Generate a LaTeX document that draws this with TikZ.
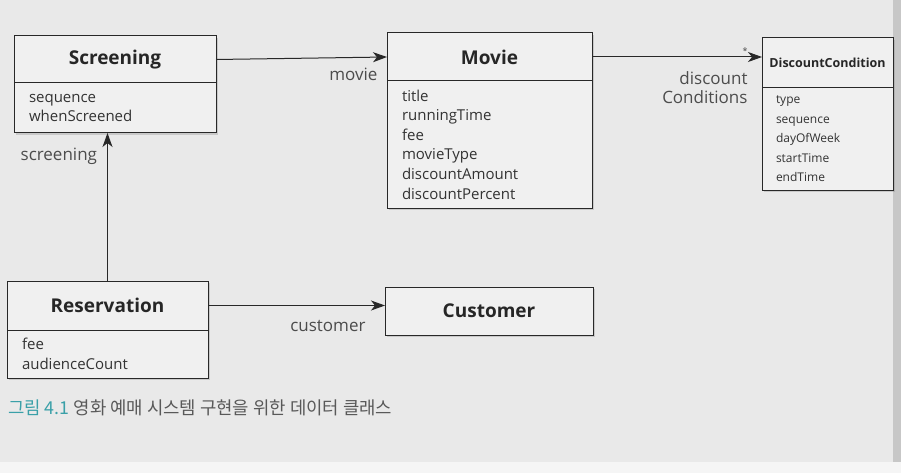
\documentclass[tikz,border=0pt]{standalone}
\usepackage{fontspec}
\setmainfont{Open Sans}
\newfontfamily\krfont{Noto Sans CJK KR}
\usetikzlibrary{positioning,arrows.meta,shadows}
\definecolor{pagegray}{RGB}{233,233,233}
\definecolor{boxfill}{RGB}{240,240,240}
\definecolor{inkline}{RGB}{40,40,40}
\definecolor{captionteal}{RGB}{58,160,168}
\tikzset{
  classhead/.style={draw=inkline, line width=1pt, fill=boxfill, outer sep=0pt,
    font=\fontsize{19}{22}\selectfont\bfseries, text=black!85,
    drop shadow={shadow xshift=2pt, shadow yshift=-2pt, opacity=0.3}},
  classbody/.style={draw=inkline, line width=1pt, fill=boxfill, outer sep=0pt,
    align=left, inner xsep=15pt, inner ysep=0pt, text=black!80,
    font=\fontsize{15}{19.6}\selectfont,
    drop shadow={shadow xshift=2pt, shadow yshift=-2pt, opacity=0.3}},
  assoc/.style={draw=inkline, line width=1pt, -{Stealth[length=14pt,width=10pt,inset=4pt]}},
  rolelabel/.style={text=black!70, font=\fontsize{17}{19}\selectfont, inner sep=2pt}
}
\begin{document}
\begin{tikzpicture}[x=1pt,y=-1pt]
\useasboundingbox (0,0) rectangle (901,473);
\fill[pagegray] (0,0) rectangle (901,473);
\fill[black!22] (893,0) rectangle (901,462);
\fill[black!4] (0,462) rectangle (901,473);
% classes
\node[classhead, anchor=north west, minimum width=202pt, minimum height=47pt] (screeninghead) at (14,36) {Screening};
\node[classbody, below=0pt of screeninghead, minimum height=50pt, text width=172pt] (screeningbody) {sequence\\whenScreened};
\node[classhead, anchor=north west, minimum width=205pt, minimum height=48pt] (moviehead) at (387,33) {Movie};
\node[classbody, below=0pt of moviehead, minimum height=127pt, text width=175pt] (moviebody) {title\\runningTime\\fee\\movieType\\discountAmount\\discountPercent};
\node[classhead, anchor=north west, minimum width=131pt, minimum height=50pt, inner sep=1pt, font=\fontsize{12.5}{15}\selectfont\bfseries] (dchead) at (762,38) {DiscountCondition};
\node[classbody, below=0pt of dchead, minimum height=102pt, text width=103pt, inner xsep=14pt, font=\fontsize{12}{19.5}\selectfont] (dcbody) {type\\sequence\\dayOfWeek\\startTime\\endTime};
\node[classhead, anchor=north west, minimum width=201pt, minimum height=49pt] (reshead) at (7,281) {Reservation};
\node[classbody, below=0pt of reshead, minimum height=48pt, text width=171pt] (resbody) {fee\\audienceCount};
\node[classhead, anchor=north west, minimum width=208pt, minimum height=48pt] (customer) at (385,287) {Customer};
% associations
\draw[assoc] (screeninghead.east) -- (moviehead.west)
  node[rolelabel, pos=1, below left=9pt and 7pt] (movierole) {movie};
\draw[assoc] (moviehead.east) -- (moviehead.east -| dchead.west)
  node[rolelabel, pos=1, above left=0pt and 12pt, font=\small] (dcmult) {*}
  node[rolelabel, pos=1, below left=12pt and 12pt, align=right] (dcrole) {discount\\Conditions};
\draw[assoc] (reshead.north) -- (reshead.north |- screeningbody.south)
  node[rolelabel, pos=0.84, left=8pt] (screeningrole) {screening};
\draw[assoc] (reshead.east) -- (reshead.east -| customer.west)
  node[rolelabel, pos=1, below left=12pt and 17pt] (customerrole) {customer};
% caption
\node[anchor=west, inner sep=0pt, font=\krfont\fontsize{17.8}{20}\selectfont] (caption) at (8,408)
  {\textcolor{captionteal}{그림 4.1} \textcolor{black!65}{영화 예매 시스템 구현을 위한 데이터 클래스}};
\end{tikzpicture}
\end{document}
